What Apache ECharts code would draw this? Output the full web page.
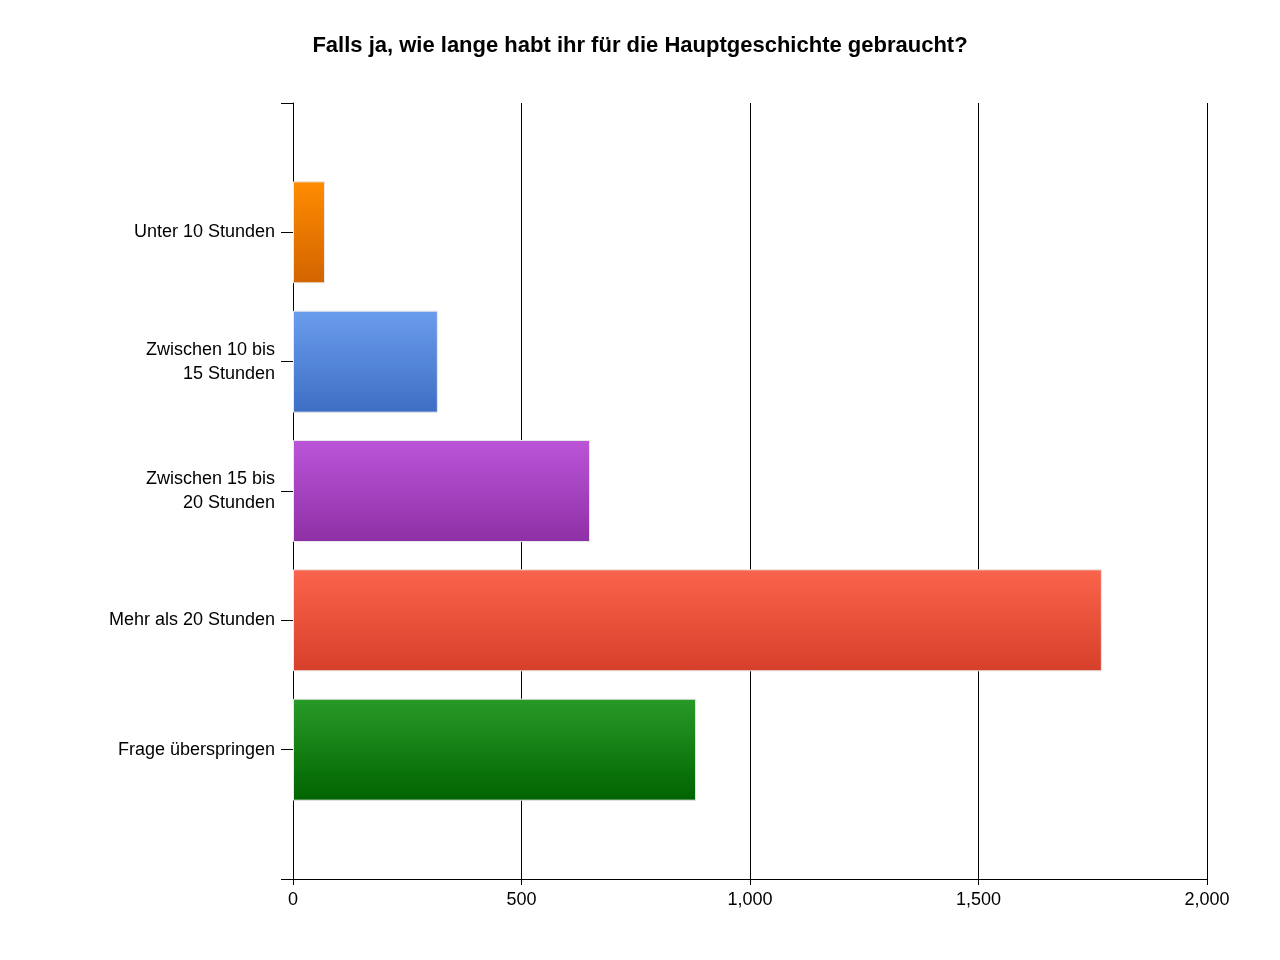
<!DOCTYPE html>
<html>
<head>
<meta charset="utf-8">
<script src="https://cdn.jsdelivr.net/npm/echarts@6/dist/echarts.min.js"></script>
<style>html,body{margin:0;padding:0;background:#fff}#chart{width:1280px;height:960px}</style>
</head>
<body>
<div id="chart"></div>
<script>
// Kategorien mit leeren Plätzen oben und unten
var categories = ['', 'Unter 10 Stunden', 'Zwischen 10 bis\n15 Stunden', 'Zwischen 15 bis\n20 Stunden', 'Mehr als 20 Stunden', 'Frage überspringen', ''];
var values = [null, 70, 317, 650, 1770, 882, null];
var topColors = ['', '#ff8c00', '#6b9ded', '#bb55d8', '#fa644c', '#289a28', ''];
var bottomColors = ['', '#d26400', '#3d6ec4', '#8e30a6', '#d6402a', '#006400', ''];
var xTicks = [0, 500, 1000, 1500, 2000];

var myChart = echarts.init(document.getElementById('chart'));
var barData = values.map(function (v, i) {
  if (v === null) return null;
  return {
    value: v,
    itemStyle: {
      color: new echarts.graphic.LinearGradient(0, 0, 0, 1, [
        { offset: 0, color: topColors[i] },
        { offset: 1, color: bottomColors[i] }
      ]),
      borderColor: '#e8e8e8',
      borderWidth: 1
    }
  };
});

myChart.setOption({
  animation: false,
  textStyle: { fontFamily: 'Liberation Sans' },
  title: {
    text: 'Falls ja, wie lange habt ihr für die Hauptgeschichte gebraucht?',
    left: 'center', top: 30,
    textStyle: { fontSize: 22, fontWeight: 'bold', color: '#000', fontFamily: 'Liberation Sans' }
  },
  grid: { left: 293, right: 73, top: 103, bottom: 81 },
  xAxis: {
    type: 'value', min: xTicks[0], max: xTicks[xTicks.length - 1], interval: 500,
    axisLine: { show: true, lineStyle: { color: '#000' } },
    axisTick: { show: true, length: 6, lineStyle: { color: '#000' } },
    axisLabel: { color: '#000', fontSize: 18, margin: 12 },
    splitLine: { show: true, lineStyle: { color: '#000', width: 1 } }
  },
  yAxis: {
    type: 'category', data: categories, inverse: true, boundaryGap: false,
    axisLine: { show: true, lineStyle: { color: '#000' } },
    axisTick: { show: true, length: 12, lineStyle: { color: '#000' } },
    axisLabel: { color: '#000', fontSize: 18, lineHeight: 24, align: 'right', margin: 18, interval: 0 }
  },
  series: [{
    type: 'bar', data: barData, barWidth: 102
  }]
});
</script>
</body>
</html>
